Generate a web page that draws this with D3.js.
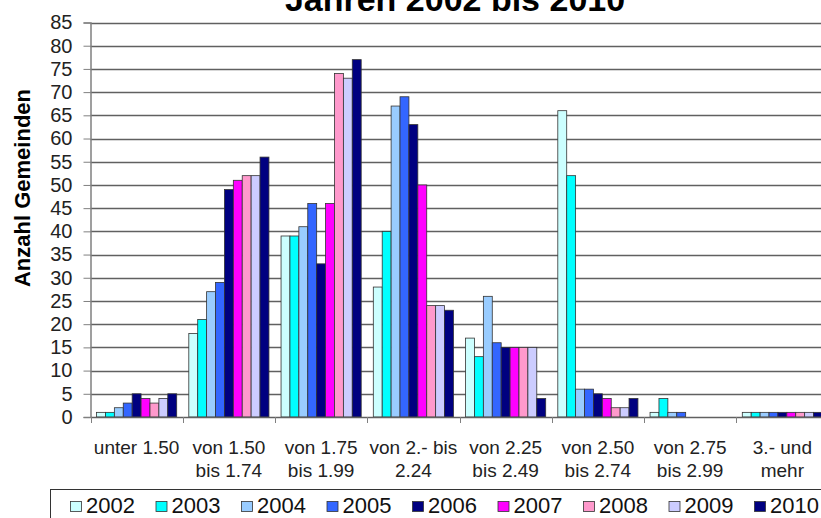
<!DOCTYPE html>
<html>
<head>
<meta charset="utf-8">
<script src="https://cdn.jsdelivr.net/npm/d3@7"></script>
<style>
body { margin: 0; background: #fff; overflow: hidden; }
svg { display: block; font-family: "Liberation Sans", Arial, sans-serif; }
</style>
</head>
<body>
<div id="chart-area"></div>
<script>
// data
var categories = [
    ["unter 1.50"],
    ["von 1.50", "bis 1.74"],
    ["von 1.75", "bis 1.99"],
    ["von 2.- bis", "2.24"],
    ["von 2.25", "bis 2.49"],
    ["von 2.50", "bis 2.74"],
    ["von 2.75", "bis 2.99"],
    ["3.- und", "mehr"]
];
var years = ["2002", "2003", "2004", "2005", "2006", "2007", "2008", "2009", "2010"];
var colors = ["#ccffff", "#00ffff", "#99ccff", "#3366ff", "#000080", "#ff00ff", "#ff99cc", "#ccccff", "#000080"];

// one row per year, one value per category
var v2002 = [1, 18, 39, 28, 17, 66, 1, 1];
var v2003 = [1, 21, 39, 40, 13, 52, 4, 1];
var v2004 = [2, 27, 41, 67, 26, 6, 1, 1];
var v2005 = [3, 29, 46, 69, 16, 6, 1, 1];
var v2006 = [5, 49, 33, 63, 15, 5, 0, 1];
var v2007 = [4, 51, 46, 50, 15, 4, 0, 1];
var v2008 = [3, 52, 74, 24, 15, 2, 0, 1];
var v2009 = [4, 52, 73, 24, 15, 2, 0, 1];
var v2010 = [5, 56, 77, 23, 4, 4, 0, 1];
var series = [v2002, v2003, v2004, v2005, v2006, v2007, v2008, v2009, v2010];

var yTicks = d3.range(0, 90, 5);

var svgWidth = 821, svgHeight = 518;
var margin = { top: 22.5, left: 90.5, bottom: 101 };
var plotRight = 828.5;

var svg = d3.select("#chart-area")
    .append("svg")
    .attr("width", svgWidth)
    .attr("height", svgHeight);

var xScale = d3.scaleBand()
    .domain(d3.range(categories.length))
    .range([margin.left, plotRight])
    .padding(0);

var xInner = d3.scaleBand()
    .domain(years)
    .range([0, xScale.bandwidth()])
    .paddingInner(0)
    .paddingOuter(0.68);

var yScale = d3.scaleLinear()
    .domain([0, 85])
    .range([svgHeight - margin.bottom, margin.top]);

// title (top line is cut off in the original)
svg.append("text")
    .attr("x", 455)
    .attr("y", 11)
    .attr("text-anchor", "middle")
    .attr("font-size", "34px")
    .attr("font-weight", "bold")
    .text("Jahren 2002 bis 2010");

// gridlines
svg.append("g")
    .selectAll("line")
    .data(yTicks.filter(d => d > 0))
    .enter().append("line")
    .attr("x1", margin.left)
    .attr("x2", plotRight)
    .attr("y1", d => Math.round(yScale(d)) + 0.5)
    .attr("y2", d => Math.round(yScale(d)) + 0.5)
    .attr("stroke", "#606060")
    .attr("stroke-width", 1.3);

// y axis
var leftAxis = d3.axisLeft(yScale)
    .tickValues(yTicks)
    .tickSize(7)
    .tickPadding(11);

var yAxis = svg.append("g")
    .attr("transform", "translate(" + margin.left + ",0)")
    .call(leftAxis);
yAxis.select(".domain").attr("stroke", "#808080").attr("stroke-width", 1.5);
yAxis.selectAll(".tick line").attr("stroke", "#808080");
yAxis.selectAll("text")
    .attr("font-size", "20px")
    .attr("font-family", "Liberation Sans, Arial, sans-serif")
    .attr("fill", "#222");

// bars
svg.append("g")
    .selectAll("g")
    .data(series)
    .enter().append("g")
    .attr("fill", (d, i) => colors[i])
    .each(function(vals, i) {
        d3.select(this).selectAll("rect")
            .data(vals)
            .enter().append("rect")
            .attr("x", (d, c) => xScale(c) + xInner(years[i]))
            .attr("y", d => yScale(d))
            .attr("width", xInner.bandwidth())
            .attr("height", d => yScale(0) - yScale(d))
            .attr("stroke", d => d > 0 ? "#333" : "none")
            .attr("stroke-width", 0.8);
    });

// x axis
var botAxis = d3.axisBottom(xScale)
    .tickSize(0)
    .tickFormat("");
var xAxis = svg.append("g")
    .attr("transform", "translate(0," + yScale(0) + ")")
    .call(botAxis);
xAxis.select(".domain").attr("stroke", "#606060").attr("stroke-width", 1.5);

// category boundary ticks
xAxis.selectAll(".sep")
    .data(d3.range(categories.length + 1))
    .enter().append("line")
    .attr("class", "sep")
    .attr("x1", d => Math.round(margin.left + d * xScale.step()) + 0.5)
    .attr("x2", d => Math.round(margin.left + d * xScale.step()) + 0.5)
    .attr("y1", 0)
    .attr("y2", 6)
    .attr("stroke", "#808080");

// category labels
svg.append("g")
    .selectAll("text")
    .data(categories)
    .enter().append("text")
    .attr("x", (d, i) => xScale(i) + xScale.bandwidth() / 2)
    .attr("y", 454)
    .attr("text-anchor", "middle")
    .attr("font-size", "19px")
    .attr("fill", "#222")
    .each(function(lines) {
        var t = d3.select(this);
        lines.forEach((line, k) => {
            t.append("tspan")
                .attr("x", t.attr("x"))
                .attr("dy", k === 0 ? 0 : 23)
                .text(line);
        });
    });

// y axis label
svg.append("text")
    .attr("transform", "translate(30,188) rotate(-90)")
    .attr("text-anchor", "middle")
    .attr("font-size", "22px")
    .attr("font-weight", "bold")
    .text("Anzahl Gemeinden");

// legend
var legend = svg.append("g");
legend.append("rect")
    .attr("x", 50.5)
    .attr("y", 489.5)
    .attr("width", 800)
    .attr("height", 40)
    .attr("fill", "#fff")
    .attr("stroke", "#333")
    .attr("stroke-width", 1);

var legendX = d3.scalePoint()
    .domain(years)
    .range([70, 754]);

var item = legend.selectAll(".item")
    .data(years)
    .enter().append("g")
    .attr("class", "item")
    .attr("transform", d => "translate(" + legendX(d) + ",0)");

item.append("rect")
    .attr("x", 0.5)
    .attr("y", 501.5)
    .attr("width", 11)
    .attr("height", 10)
    .attr("fill", (d, i) => colors[i])
    .attr("stroke", "#333")
    .attr("stroke-width", 0.8);

item.append("text")
    .attr("x", 16)
    .attr("y", 513)
    .attr("font-size", "22px")
    .attr("fill", "#111")
    .text(d => d);
</script>
</body>
</html>
